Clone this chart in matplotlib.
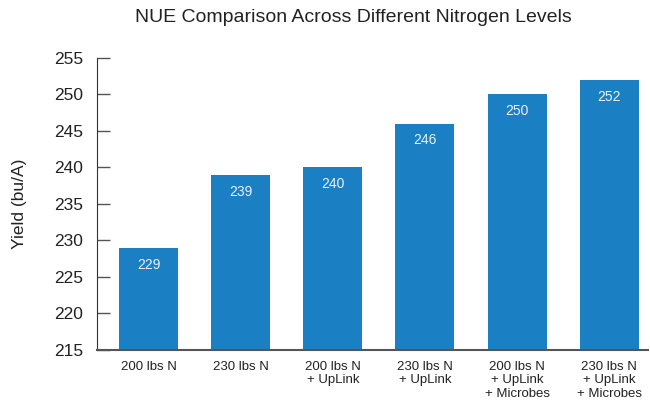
import matplotlib.pyplot as plt

# --------------------------------------------------------------------
# Data
# --------------------------------------------------------------------
categories = [
    "200 lbs N",
    "230 lbs N",
    "200 lbs N\n+ UpLink",
    "230 lbs N\n+ UpLink",
    "200 lbs N\n+ UpLink\n+ Microbes",
    "230 lbs N\n+ UpLink\n+ Microbes",
]
yields = [229, 239, 240, 246, 250, 252]
y_ticks = [215, 220, 225, 230, 235, 240, 245, 250, 255]

# --------------------------------------------------------------------
# Style
# --------------------------------------------------------------------
plt.rcParams["font.family"] = ["Liberation Sans", "DejaVu Sans"]
bar_color = "#1b7fc4"
text_color = "#222222"

fig = plt.figure(figsize=(6.5, 4), dpi=100)
ax = fig.add_axes([0.149, 0.125, 0.848, 0.73])

x_pos = range(len(categories))
bars = ax.bar(x_pos, yields, width=0.64, color=bar_color, zorder=2)

# values inside the top of each bar
for bar, val in zip(bars, yields):
    ax.annotate(str(val),
                xy=(bar.get_x() + bar.get_width() / 2, bar.get_height()),
                xytext=(0, -7), textcoords="offset points",
                ha="center", va="top", fontsize=10, color="#e8f1fa")

ax.set_ylim(215, 255)
ax.set_xlim(-0.56, 5.42)
ax.set_yticks(y_ticks)
ax.set_yticklabels([str(t) for t in y_ticks], fontsize=12.5, color=text_color)
ax.set_xticks(list(x_pos))
ax.set_xticklabels(categories, fontsize=9.5, color=text_color, linespacing=1.15)
ax.tick_params(axis="x", length=0, pad=8)
ax.tick_params(axis="y", direction="in", length=9, width=1,
               color="#555555", pad=10)

ax.set_ylabel("Yield (bu/A)", fontsize=12.5, color=text_color, labelpad=19)
fig.text(353 / 650, 1 - 17 / 400,
         "NUE Comparison Across Different Nitrogen Levels",
         fontsize=14, color=text_color, ha="center", va="center")

for side in ["top", "right"]:
    ax.spines[side].set_visible(False)
ax.spines["left"].set_color("#333333")
ax.spines["bottom"].set_color("#555555")
ax.spines["bottom"].set_linewidth(1.5)
ax.spines["bottom"].set_zorder(3)

plt.savefig("out.png", dpi=100)
